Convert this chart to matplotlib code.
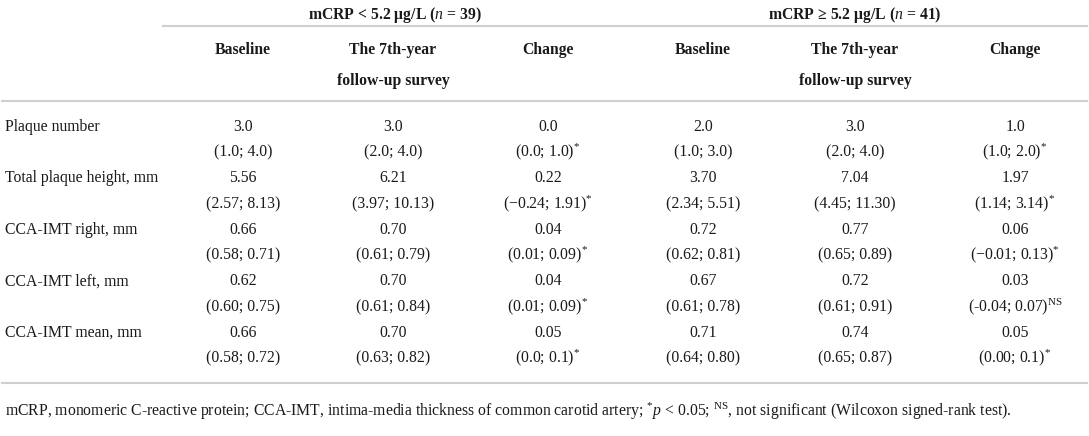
import matplotlib
matplotlib.use("Agg")
import matplotlib.pyplot as plt

plt.rcParams['font.family'] = ['Liberation Serif', 'DejaVu Serif']
plt.rcParams['mathtext.fontset'] = 'custom'
plt.rcParams['mathtext.rm'] = 'Liberation Serif'
plt.rcParams['mathtext.it'] = 'Liberation Serif:italic'
plt.rcParams['mathtext.bf'] = 'Liberation Serif:bold'

# table content
groups = [r"mCRP < 5.2 μg/L ($\mathit{n}$ = 39)", r"mCRP ≥ 5.2 μg/L ($\mathit{n}$ = 41)"]
col_heads = ["Baseline", "The 7th-year\nfollow-up survey", "Change"] * 2
row_labels = ["Plaque number", "Total plaque height, mm", "CCA-IMT right, mm",
              "CCA-IMT left, mm", "CCA-IMT mean, mm"]
medians = [
    ["3.0", "3.0", "0.0", "2.0", "3.0", "1.0"],
    ["5.56", "6.21", "0.22", "3.70", "7.04", "1.97"],
    ["0.66", "0.70", "0.04", "0.72", "0.77", "0.06"],
    ["0.62", "0.70", "0.04", "0.67", "0.72", "0.03"],
    ["0.66", "0.70", "0.05", "0.71", "0.74", "0.05"],
]
S = "$^{*}$"
NS = r"$^{\mathrm{NS}}$"
iqrs = [
    ["(1.0; 4.0)", "(2.0; 4.0)", "(0.0; 1.0)" + S, "(1.0; 3.0)", "(2.0; 4.0)", "(1.0; 2.0)" + S],
    ["(2.57; 8.13)", "(3.97; 10.13)", "(−0.24; 1.91)" + S, "(2.34; 5.51)", "(4.45; 11.30)", "(1.14; 3.14)" + S],
    ["(0.58; 0.71)", "(0.61; 0.79)", "(0.01; 0.09)" + S, "(0.62; 0.81)", "(0.65; 0.89)", "(−0.01; 0.13)" + S],
    ["(0.60; 0.75)", "(0.61; 0.84)", "(0.01; 0.09)" + S, "(0.61; 0.78)", "(0.61; 0.91)", "(-0.04; 0.07)" + NS],
    ["(0.58; 0.72)", "(0.63; 0.82)", "(0.0; 0.1)" + S, "(0.64; 0.80)", "(0.65; 0.87)", "(0.00; 0.1)" + S],
]
footnote = (r"mCRP, monomeric C-reactive protein; CCA-IMT, intima-media thickness of common carotid artery; "
            r"$^{*}\mathit{p}$ < 0.05; $^{\mathrm{NS}}$, not significant (Wilcoxon signed-rank test).")

W, H = 1089, 436
fig = plt.figure(figsize=(W / 100, H / 100), dpi=100)
ax = fig.add_axes([0, 0, 1, 1])
ax.set_xlim(0, W)
ax.set_ylim(H, 0)
ax.axis('off')

col_x = [243, 393, 548, 703, 855, 1015]
group_x = [395, 855]
fs = 11.3
off = 5  # baseline offset from visual row centre
txt = '#1a1a1a'
rule = '#d0d0d0'


def put(x, y, s, ha='center', **kw):
    ax.text(x, y + off, s, ha=ha, va='baseline', fontsize=fs, color=txt, **kw)


for gx, g in zip(group_x, groups):
    put(gx, 14, g, fontweight='bold')
ax.plot([163, 635], [26, 26], color=rule, lw=1.5)
ax.plot([637, 1087], [26, 26], color=rule, lw=1.5)

for cx, h in zip(col_x, col_heads):
    for i, ln in enumerate(h.split('\n')):
        put(cx, 49 + 31 * i, ln, fontweight='bold')
ax.plot([2, 1087], [101, 101], color=rule, lw=1.5)

row_y = 126
for lab, med, iq in zip(row_labels, medians, iqrs):
    put(5, row_y, lab, ha='left')
    for cx, m, q in zip(col_x, med, iq):
        put(cx, row_y, m)
        put(cx, row_y + 25.7, q)
    row_y += 51.4

ax.plot([2, 1087], [383, 383], color=rule, lw=1.5)
put(5, 411, footnote, ha='left')

fig.savefig('out.png', dpi=100, facecolor='white')
